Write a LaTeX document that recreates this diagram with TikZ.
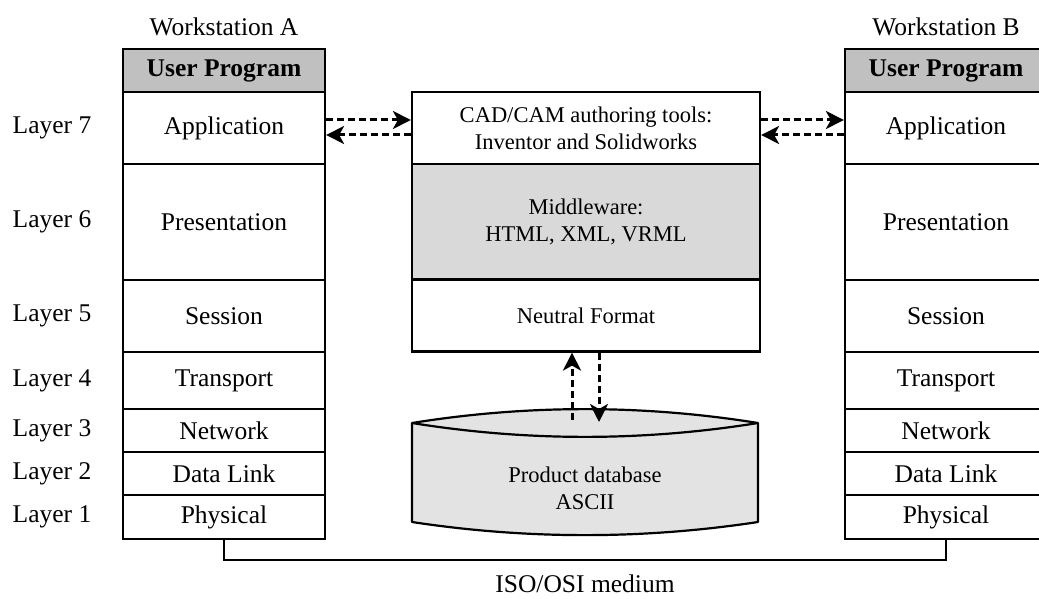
\documentclass[tikz,border=0pt]{standalone}
\usepackage{fontspec}
\setmainfont{Liberation Serif}
\usetikzlibrary{arrows.meta}

\definecolor{headgray}{HTML}{C0C0C0}
\definecolor{midgray}{HTML}{D9D9D9}
\definecolor{dbgray}{HTML}{E3E3E3}

\tikzset{
  cell/.style={draw=black, line width=2.2pt, fill=white, inner sep=0pt,
               minimum width=202pt, font=\fontsize{25.5}{28}\selectfont},
  midcell/.style={draw=black, line width=2.2pt, fill=white, inner sep=0pt,
               minimum width=348pt, align=center,
               font=\fontsize{22.5}{27}\selectfont},
  lbl/.style={inner sep=0pt, font=\fontsize{25.5}{28}\selectfont},
  flow/.style={line width=3pt, dash pattern=on 7pt off 4pt,
               -{Stealth[length=18pt, width=18pt, inset=5pt]}},
  medium/.style={line width=2.6pt},
}

\begin{document}
\begin{tikzpicture}[x=1pt, y=-1pt]
\useasboundingbox (0,0) rectangle (1039,599);

% ---- Workstation A stack ----
\node[lbl] (wsA) at (224,27) {Workstation A};
\node[cell, fill=headgray, minimum height=43pt] (upA) at (224,70.5) {\textbf{User Program}};
\node[cell, minimum height=72pt]  (appA)  at (224,128)   {Application};
\node[cell, minimum height=116pt] (preA)  at (224,222)   {Presentation};
\node[cell, minimum height=72pt]  (sesA)  at (224,316)   {Session};
\node[cell, minimum height=57pt]  (traA)  at (224,380.5) {Transport};
\node[cell, minimum height=43pt]  (netA)  at (224,430.5) {Network};
\node[cell, minimum height=43pt]  (dlA)   at (224,473.5) {Data Link};
\node[cell, minimum height=44pt]  (phyA)  at (224,517)   {Physical};

% ---- Workstation B stack ----
\node[lbl] (wsB) at (946,27) {Workstation B};
\node[cell, fill=headgray, minimum height=43pt] (upB) at (946,70.5) {\textbf{User Program}};
\node[cell, minimum height=72pt]  (appB)  at (946,128)   {Application};
\node[cell, minimum height=116pt] (preB)  at (946,222)   {Presentation};
\node[cell, minimum height=72pt]  (sesB)  at (946,316)   {Session};
\node[cell, minimum height=57pt]  (traB)  at (946,380.5) {Transport};
\node[cell, minimum height=43pt]  (netB)  at (946,430.5) {Network};
\node[cell, minimum height=43pt]  (dlB)   at (946,473.5) {Data Link};
\node[cell, minimum height=44pt]  (phyB)  at (946,517)   {Physical};

% ---- layer numbers ----
\node[lbl] (l7) at (52,128)   {Layer 7};
\node[lbl] (l6) at (52,222)   {Layer 6};
\node[lbl] (l5) at (52,316)   {Layer 5};
\node[lbl] (l4) at (52,380.5) {Layer 4};
\node[lbl] (l3) at (52,430.5) {Layer 3};
\node[lbl] (l2) at (52,473.5) {Layer 2};
\node[lbl] (l1) at (52,517)   {Layer 1};

% ---- central column ----
\node[midcell, minimum height=72pt]  (cad) at (586,128)   {CAD/CAM authoring tools:\\Inventor and Solidworks};
\node[midcell, fill=midgray, minimum height=115pt] (mw) at (586,221.5) {Middleware:\\HTML, XML, VRML};
\node[midcell, minimum height=72pt]  (neu) at (586,315.5) {Neutral Format};

% ---- product database (cylinder) ----
\coordinate (dbTL) at (412,423);
\coordinate (dbTR) at (758,423);
\coordinate (dbBL) at (412,522);
\coordinate (dbBR) at (758,522);
\filldraw[fill=dbgray, line width=2.2pt, line join=round]
  (dbTL) .. controls (527,404.5) and (643,404.5) .. (dbTR)
  -- (dbBR) .. controls (643,539.5) and (527,539.5) .. (dbBL) -- cycle;
\draw[line width=2.2pt]
  (dbTL) .. controls (527,441.5) and (643,441.5) .. (dbTR);
\node[midcell, draw=none, fill=none, minimum width=0pt] (db) at (585,488)
  {Product database\\ASCII};

% ---- exchanges between the stacks and the tools ----
\coordinate (aOut) at ([yshift=8pt]appA.east);
\coordinate (aIn)  at ([yshift=-7pt]appA.east);
\coordinate (cIn)  at ([yshift=8pt]cad.west);
\coordinate (cOut) at ([yshift=-7pt]cad.west);
\draw[flow] (aOut) -- (cIn);
\draw[flow] (cOut) -- (aIn);

\coordinate (cOutR) at ([yshift=8pt]cad.east);
\coordinate (cInR)  at ([yshift=-7pt]cad.east);
\coordinate (bIn)   at ([yshift=8pt]appB.west);
\coordinate (bOut)  at ([yshift=-7pt]appB.west);
\draw[flow] (cOutR) -- (bIn);
\draw[flow] (bOut) -- (cInR);

% ---- exchanges with the database ----
\coordinate (dbUp)   at (572,420);
\coordinate (dbDown) at (599,422);
\draw[flow] (dbUp) -- (neu.south -| dbUp);
\draw[flow] (neu.south -| dbDown) -- (dbDown);

% ---- physical medium ----
\coordinate (medA) at (224,560);
\coordinate (medB) at (946,560);
\draw[medium] (phyA.south) -- (medA) -- (medB) -- (phyB.south);
\node[lbl] (iso) at (585,584) {ISO/OSI medium};

\end{tikzpicture}
\end{document}
